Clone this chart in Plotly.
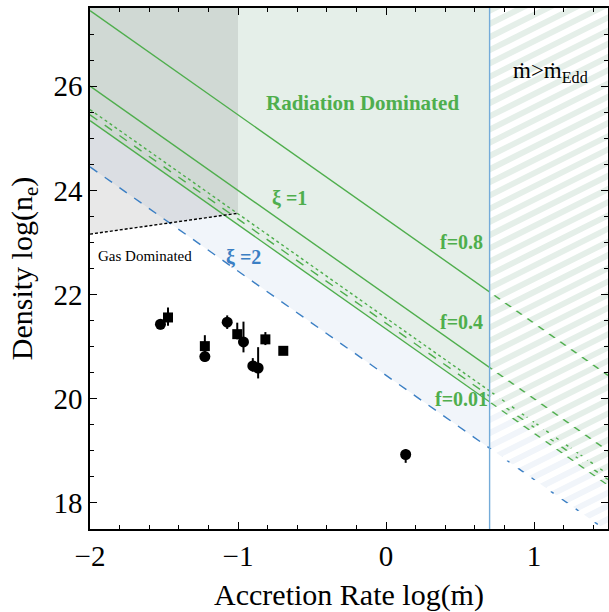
import numpy as np
import plotly.graph_objects as go

# ---- data -------------------------------------------------------------
# constant-ionisation lines: log n_e = a - 2 log(mdot); a = value at log(mdot)=0
slope = -2.0
f08_a = 23.45          # f = 0.8, xi = 1
f04_a = 22.0           # f = 0.4, xi = 1
f001_a = [21.55, 21.45, 21.34]   # f = 0.01 family (dotted, dashed, solid)
f001_dash = ["dot", "dash", "solid"]
xi2_a = 20.45          # xi = 2 boundary

# gas / radiation pressure boundary (x<-1)
gas_x = [-2.0, -1.0]
gas_y = [23.16, 23.56]

# Eddington limit
edd_x = 0.7

# observed sources
circ_x = [-1.524, -1.224, -1.073, -0.963, -0.900, -0.864, 0.133]
circ_y = [21.43, 20.81, 21.47, 21.09, 20.63, 20.59, 18.93]
circ_ep = [0.10, 0.10, 0.13, 0.39, 0.15, 0.40, 0.10]
circ_em = [0.10, 0.10, 0.13, 0.20, 0.11, 0.20, 0.16]

sq_x = [-1.473, -1.224, -1.005, -0.815, -0.694]
sq_y = [21.56, 21.01, 21.24, 21.14, 20.92]
sq_ep = [0.19, 0.21, 0.22, 0.14, 0.06]
sq_em = [0.16, 0.11, 0.10, 0.11, 0.06]

# ---- layout constants -------------------------------------------------
W, H = 609, 612
ML, MR, MT, MB = 90, 1, 8, 83
XR = [-2.0, 1.5]
YR = [17.5, 27.5]
FONT = "Liberation Serif"
GREEN = "#4fae4d"
BLUE = "#3b7fc4"


def line_y(a, x):
    return a + slope * np.asarray(x, dtype=float)


xs = np.array(XR)
low_a = min(f001_a)
top = YR[1] + 1

fig = go.Figure()

# light blue zone between the xi=2 line and the radiation-dominated zone
fig.add_trace(go.Scatter(
    x=[XR[0], XR[1], XR[1], XR[0]],
    y=[line_y(xi2_a, XR[0]), line_y(xi2_a, XR[1]), line_y(low_a, XR[1]), line_y(low_a, XR[0])],
    fill="toself", fillcolor="#f1f5fa", line=dict(width=0), mode="lines",
    hoverinfo="skip", showlegend=False))

# radiation dominated zone
fig.add_trace(go.Scatter(
    x=[XR[0], XR[1], XR[1], XR[0]],
    y=[line_y(low_a, XR[0]), line_y(low_a, XR[1]), top, top],
    fill="toself", fillcolor="#e5efe9", line=dict(width=0), mode="lines",
    hoverinfo="skip", showlegend=False))

# gas-pressure region overlay above the boundary
fig.add_trace(go.Scatter(
    x=[gas_x[0], gas_x[1], gas_x[1], gas_x[0]],
    y=[gas_y[0], gas_y[1], top, top],
    fill="toself", fillcolor="rgba(0,0,0,0.09)", line=dict(width=0), mode="lines",
    hoverinfo="skip", showlegend=False))

# green ionisation lines
for a in [f08_a, f04_a]:
    fig.add_trace(go.Scatter(x=xs, y=line_y(a, xs), mode="lines",
                             line=dict(color=GREEN, width=1.4),
                             hoverinfo="skip", showlegend=False))
for a, d in zip(f001_a, f001_dash):
    fig.add_trace(go.Scatter(x=xs, y=line_y(a, xs), mode="lines",
                             line=dict(color=GREEN, width=1.4, dash=d),
                             hoverinfo="skip", showlegend=False))

# xi = 2 line
fig.add_trace(go.Scatter(x=xs, y=line_y(xi2_a, xs), mode="lines",
                         line=dict(color=BLUE, width=1.4, dash="9px,9px"),
                         hoverinfo="skip", showlegend=False))

# gas / radiation boundary
fig.add_trace(go.Scatter(x=gas_x, y=gas_y, mode="lines",
                         line=dict(color="black", width=1.4, dash="3px,2px"),
                         hoverinfo="skip", showlegend=False))

# white hatching of the super-Eddington region
pw = W - ML - MR
ph = H - MT - MB
px_x = pw / (XR[1] - XR[0])
px_y = ph / (YR[1] - YR[0])
s = 0.5 * px_x / px_y          # stripe slope in data units
period = 13.2 / px_y
width = period * 0.5
hx, hy = [], []
c = YR[0] - s * (XR[1] - edd_x) - period
while c < top:
    hx += [edd_x, XR[1], XR[1], edd_x, edd_x, None]
    hy += [c, c + s * (XR[1] - edd_x), c + width + s * (XR[1] - edd_x), c + width, c, None]
    c += period
fig.add_trace(go.Scatter(x=hx, y=hy, fill="toself", fillcolor="white",
                         line=dict(width=0), mode="lines",
                         hoverinfo="skip", showlegend=False))

# Eddington limit
fig.add_trace(go.Scatter(x=[edd_x, edd_x], y=[YR[0], YR[1]], mode="lines",
                         line=dict(color="#74abd9", width=1.4),
                         hoverinfo="skip", showlegend=False))

# sources
fig.add_trace(go.Scatter(
    x=circ_x, y=circ_y, mode="markers",
    marker=dict(symbol="circle", size=11, color="black"),
    error_y=dict(type="data", symmetric=False, array=circ_ep, arrayminus=circ_em,
                 color="black", thickness=2, width=0),
    showlegend=False))
fig.add_trace(go.Scatter(
    x=sq_x, y=sq_y, mode="markers",
    marker=dict(symbol="square", size=10, color="black"),
    error_y=dict(type="data", symmetric=False, array=sq_ep, arrayminus=sq_em,
                 color="black", thickness=2, width=0),
    showlegend=False))

# labels
def label(x, y, text, color, size, bold=True, xanchor="center"):
    fig.add_annotation(x=x, y=y, text=f"<b>{text}</b>" if bold else text,
                       showarrow=False, xanchor=xanchor, yanchor="middle",
                       font=dict(family=FONT, size=size, color=color))

label(-0.162, 25.67, "Radiation Dominated", GREEN, 21)
label(-0.65, 23.85, "ξ =1", GREEN, 20)
label(-0.96, 22.73, "ξ =2", BLUE, 20)
label(0.67, 23.0, "f=0.8", GREEN, 20, xanchor="right")
label(0.67, 21.47, "f=0.4", GREEN, 20, xanchor="right")
label(0.70, 20.0, "f=0.01", GREEN, 20, xanchor="right")
label(-1.96, 22.74, "Gas Dominated", "black", 15, bold=False, xanchor="left")
label(1.11, 26.27, "ṁ>ṁ<sub>Edd</sub>", "black", 23, bold=False)

axis_common = dict(
    showline=True, linecolor="black", linewidth=1.5, mirror="allticks",
    ticks="inside", ticklen=7, tickwidth=1.2, tickcolor="black",
    showgrid=False, zeroline=False,
    tickfont=dict(family=FONT, size=29, color="black"),
    title_font=dict(family=FONT, size=30, color="black"),
)

fig.update_xaxes(range=XR, dtick=1, tick0=0,
                 minor=dict(dtick=0.2, ticks="inside", ticklen=4, tickcolor="black"),
                 title_text="Accretion Rate log(ṁ)", title_standoff=13,
                 **axis_common)
fig.update_yaxes(range=YR, dtick=2, tick0=0,
                 minor=dict(dtick=0.5, ticks="inside", ticklen=4, tickcolor="black"),
                 title_text="Density log(n<sub>e</sub>)", title_standoff=12,
                 **axis_common)

fig.update_layout(width=W, height=H,
                  margin=dict(l=ML, r=MR, t=MT, b=MB, autoexpand=False),
                  plot_bgcolor="white", paper_bgcolor="white")

fig.write_html("out.html")
